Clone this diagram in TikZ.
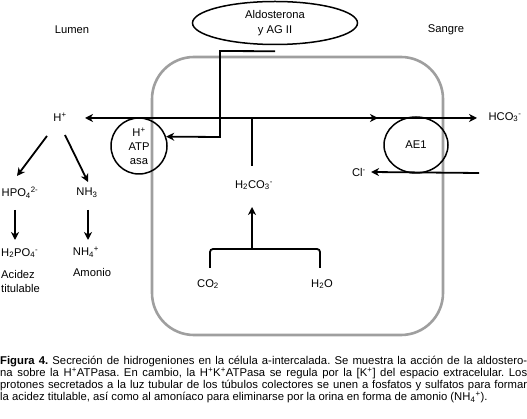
\documentclass[tikz,border=0pt]{standalone}
\usepackage{fontspec}
\setmainfont{Liberation Sans}
\usetikzlibrary{arrows.meta,shapes.geometric}
\begin{document}
\begin{tikzpicture}[x=1pt,y=-1pt,
  lbl/.style={font=\fontsize{11.2}{12}\selectfont, inner sep=1pt},
  ln/.style={line width=1.8pt, black},
  mytip/.tip={Stealth[length=8pt,width=8pt,inset=2.5pt]},
  arr/.style={ln, -mytip},
  shp/.style={draw, line width=1.5pt, inner sep=0pt, align=center, font=\fontsize{11.2}{14}\selectfont}]
\useasboundingbox (0,0) rectangle (527,419);
% cell
\draw[gray!75, line width=2.6pt, rounded corners=42pt] (152,57) rectangle (443,335);
% shapes
\node[shp, ellipse, minimum width=165pt, minimum height=43pt, font=\fontsize{11.2}{15}\selectfont] (aldo) at (275,23) {Aldosterona\\y AG II};
\node[shp, circle, minimum size=56pt] (atp) at (139,146) {H\textsuperscript{+}\\ATP\\asa};
\node[shp, ellipse, minimum width=64pt, minimum height=56pt] (ae) at (416,145) {AE1};
% labels
\node[lbl] (lumen) at (72,30) {Lumen};
\node[lbl] (sangre) at (446,30) {Sangre};
\node[lbl] (hplus) at (60,117) {H\textsuperscript{+}};
\node[lbl] (hco) at (505,117) {HCO\textsubscript{3}\textsuperscript{-}};
\node[lbl] (h2co) at (254,185) {H\textsubscript{2}CO\textsubscript{3}\textsuperscript{-}};
\node[lbl] (co2) at (208,284) {CO\textsubscript{2}};
\node[lbl] (h2o) at (322,284) {H\textsubscript{2}O};
\node[lbl] (cl) at (359,172) {Cl\textsuperscript{-}};
\node[lbl] (hpo) at (20,193) {HPO\textsubscript{4}\textsuperscript{2-}};
\node[lbl] (nh3) at (87,193) {NH\textsubscript{3}};
\node[lbl, anchor=west] (h2po) at (0,253) {H\textsubscript{2}PO\textsubscript{4}\textsuperscript{-}};
\node[lbl, anchor=west] (acid) at (0,274) {Acidez};
\node[lbl, anchor=west] (titu) at (0,288) {titulable};
\node[lbl] (nh4) at (86,252) {NH\textsubscript{4}\textsuperscript{+}};
\node[lbl] (amon) at (92,272) {Amonio};
% junction coordinates
\coordinate (w1) at (220,51);
\coordinate (w2) at (220,137);
\coordinate (hl) at (85,118);
\coordinate (hr) at (477,118);
\coordinate (hj) at (252,118);
\coordinate (hm) at (378,118);
\coordinate (hb) at (252,166);
\coordinate (bl) at (210,268);
\coordinate (br) at (320,268);
\coordinate (bj) at (252,249);
\coordinate (bt) at (252,207);
\coordinate (cls) at (479,173);
\coordinate (a1s) at (47,136);
\coordinate (a1e) at (17,176);
\coordinate (a2s) at (65,135);
\coordinate (a2e) at (88,182);
\coordinate (a3s) at (15,210);
\coordinate (a3e) at (15,240);
\coordinate (a4s) at (88,210);
\coordinate (a4e) at (88,240);
% connectors
\draw[arr] (aldo.south) ++(0,6) -- (w1) -- (w2) -- (atp.19);
\draw[ln, mytip-mytip] (hl) -- (hr);
\draw[arr] (hj) -- (hm);
\draw[ln] (hb) -- (hj);
\draw[ln, rounded corners=3pt] (bl) -- (bl |- bj) -- (br |- bj) -- (br);
\draw[arr] (bj) -- (bt);
\draw[arr] (cls) -- ([xshift=4pt]cl.east);
\draw[arr] (a1s) -- (a1e);
\draw[arr] (a2s) -- (a2e);
\draw[arr] (a3s) -- (a3e);
\draw[arr] (a4s) -- (a4e);
% caption
\node[anchor=north west, inner sep=0pt, text width=527pt, align=justify, font=\fontsize{11.3}{12.3}\selectfont\frenchspacing] (cap) at (0,355.5) {\textbf{Figura 4.} Secreción de hidrogeniones en la célula a-intercalada. Se muestra la acción de la aldostero-\linebreak na sobre la H\textsuperscript{+}ATPasa. En cambio, la H\textsuperscript{+}K\textsuperscript{+}ATPasa se regula por la [K\textsuperscript{+}] del espacio extracelular. Los\linebreak protones secretados a la luz tubular de los túbulos colectores se unen a fosfatos y sulfatos para formar\linebreak la acidez titulable, así como al amoníaco para eliminarse por la orina en forma de amonio (NH\textsubscript{4}\textsuperscript{+}).};
\end{tikzpicture}
\end{document}
